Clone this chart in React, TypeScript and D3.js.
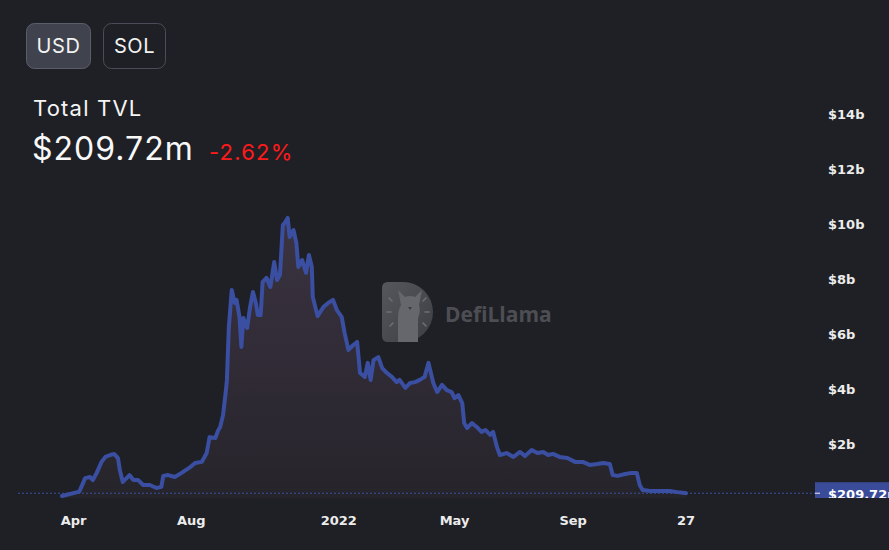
import * as d3 from "d3";

// TVL in $b
const dates = [
  "2021-03-20", "2021-04-07", "2021-04-13", "2021-04-18", "2021-04-21", "2021-04-25", "2021-04-30",
  "2021-05-04", "2021-05-09", "2021-05-13", "2021-05-17", "2021-05-19", "2021-05-22", "2021-05-26",
  "2021-05-29", "2021-06-02", "2021-06-07", "2021-06-12", "2021-06-19", "2021-06-26", "2021-07-01",
  "2021-07-03", "2021-07-08", "2021-07-15", "2021-07-22", "2021-07-31", "2021-08-05", "2021-08-12",
  "2021-08-17", "2021-08-20", "2021-08-26", "2021-08-29", "2021-08-31", "2021-09-03", "2021-09-06",
  "2021-09-07", "2021-09-09", "2021-09-12", "2021-09-15", "2021-09-17", "2021-09-20", "2021-09-22",
  "2021-09-24", "2021-09-28", "2021-10-01", "2021-10-04", "2021-10-07", "2021-10-09", "2021-10-12",
  "2021-10-14", "2021-10-18", "2021-10-22", "2021-10-24", "2021-10-26", "2021-10-29", "2021-11-01",
  "2021-11-04", "2021-11-06", "2021-11-09", "2021-11-11", "2021-11-15", "2021-11-18", "2021-11-20",
  "2021-11-24", "2021-11-28", "2021-12-01", "2021-12-04", "2021-12-05", "2021-12-10", "2021-12-16",
  "2021-12-21", "2021-12-26", "2021-12-30", "2022-01-04", "2022-01-07", "2022-01-11", "2022-01-16",
  "2022-01-20", "2022-01-23", "2022-01-28", "2022-01-31", "2022-02-03", "2022-02-06", "2022-02-11",
  "2022-02-15", "2022-02-20", "2022-02-25", "2022-03-02", "2022-03-05", "2022-03-11", "2022-03-16",
  "2022-03-21", "2022-03-26", "2022-03-31", "2022-04-04", "2022-04-09", "2022-04-13", "2022-04-18",
  "2022-04-23", "2022-04-28", "2022-05-01", "2022-05-05", "2022-05-09", "2022-05-11", "2022-05-14",
  "2022-05-19", "2022-05-24", "2022-05-29", "2022-06-02", "2022-06-07", "2022-06-10", "2022-06-14",
  "2022-06-17", "2022-06-24", "2022-07-01", "2022-07-08", "2022-07-13", "2022-07-20", "2022-07-26",
  "2022-08-01", "2022-08-06", "2022-08-11", "2022-08-18", "2022-08-26", "2022-09-03", "2022-09-11",
  "2022-09-18", "2022-09-26", "2022-10-02", "2022-10-09", "2022-10-12", "2022-10-17", "2022-10-25",
  "2022-11-01", "2022-11-06", "2022-11-09", "2022-11-12", "2022-11-20", "2022-11-30", "2022-12-10",
  "2022-12-18", "2022-12-26", "2022-12-27",
];

const tvl = [
  0.11, 0.27, 0.76, 0.8, 0.69, 0.95, 1.35,
  1.53, 1.6, 1.64, 1.49, 1.05, 0.62, 0.76,
  0.87, 0.69, 0.69, 0.51, 0.51, 0.4, 0.44,
  0.84, 0.87, 0.8, 0.95, 1.16, 1.31, 1.35,
  1.67, 2.25, 2.22, 2.5, 2.62, 3.05, 3.96,
  4.33, 6.25, 7.6, 7.13, 7.24, 6.62, 5.53,
  6.58, 6.22, 6.98, 7.53, 7.13, 6.69, 6.69,
  7.89, 8.04, 7.71, 8.15, 8.62, 7.96, 8.15,
  9.96, 10.04, 10.22, 9.53, 9.78, 9.31, 8.44,
  8.69, 8.22, 8.87, 8.44, 7.35, 6.65, 6.98,
  7.13, 7.24, 6.87, 6.62, 6.04, 5.42, 5.6,
  5.71, 4.58, 4.44, 4.95, 4.33, 5.05, 5.16,
  4.76, 4.58, 4.44, 4.25, 4.33, 4.04, 4.22,
  4.25, 4.33, 4.44, 4.95, 4.22, 3.89, 4.15,
  3.96, 3.89, 3.67, 3.78, 3.49, 2.76, 2.58,
  2.76, 2.62, 2.44, 2.51, 2.33, 2.44, 1.89,
  1.6, 1.67, 1.53, 1.71, 1.56, 1.78, 1.67,
  1.71, 1.6, 1.64, 1.53, 1.49, 1.35, 1.35,
  1.24, 1.27, 1.31, 1.27, 0.87, 0.84, 0.91,
  0.95, 0.95, 0.51, 0.33, 0.29, 0.29, 0.29,
  0.25, 0.22, 0.2097,
];

const yTicks = [2, 4, 6, 8, 10, 12, 14];
const xTickDates = ["2021-04-01", "2021-08-01", "2022-01-01", "2022-05-01", "2022-09-01", "2022-12-27"];
const xTickLabels = ["Apr", "Aug", "2022", "May", "Sep", "27"];

const W = 889;
const H = 550;
const BG = "#1f2025";
const LINE = "#3a4fa2";
const PANE_BOTTOM = 498;

const parse = d3.utcParse("%Y-%m-%d");

export default function App() {
  const points = dates.map((d, i) => ({ date: parse(d) as Date, value: tvl[i] }));

  const x = d3
    .scaleUtc()
    .domain([parse(dates[0]) as Date, parse(dates[dates.length - 1]) as Date])
    .range([62, 686]);

  const y = d3.scaleLinear().domain([0, 14]).range([499, 114]);

  const line = d3
    .line<{ date: Date; value: number }>()
    .x((d) => x(d.date))
    .y((d) => y(d.value));

  const area = d3
    .area<{ date: Date; value: number }>()
    .x((d) => x(d.date))
    .y0(y(0))
    .y1((d) => y(d.value));

  const maxV = d3.max(tvl) as number;
  const last = tvl[tvl.length - 1];
  const lastY = y(last);

  const axisFont = {
    fontFamily: "DejaVu Sans",
    fontWeight: 700,
    fontSize: 13,
    fill: "#ececec",
  };

  return (
    <svg
      width={W}
      height={H}
      style={{ position: "absolute", left: 0, top: 0, display: "block" }}
    >
      <defs>
        <linearGradient
          id="areaFill"
          gradientUnits="userSpaceOnUse"
          x1="0"
          x2="0"
          y1={y(maxV)}
          y2={y(0)}
        >
          <stop offset="0%" stopColor="#3b3341" />
          <stop offset="100%" stopColor="#26242b" />
        </linearGradient>
        <linearGradient id="logoFill" x1="0" x2="1" y1="0" y2="1">
          <stop offset="0%" stopColor="#56575c" />
          <stop offset="100%" stopColor="#3d3e43" />
        </linearGradient>
        <clipPath id="pane">
          <rect x={0} y={0} width={W} height={PANE_BOTTOM} />
        </clipPath>
      </defs>

      <rect width={W} height={H} fill={BG} />

      {/* currency toggles */}
      <rect x={26.5} y={23.5} width={64} height={45} rx={8} fill="#40434e" stroke="#5a5e6b" />
      <text x={58.5} y={53} textAnchor="middle" fill="#f2f2f2" fontFamily="Inter" fontSize={20} letterSpacing={0.6}>
        USD
      </text>
      <rect x={103.5} y={23.5} width={62} height={45} rx={8} fill="none" stroke="#4a4d59" />
      <text x={134.5} y={53} textAnchor="middle" fill="#f2f2f2" fontFamily="Inter" fontSize={20} letterSpacing={0.6}>
        SOL
      </text>

      <text x={33} y={116} fill="#f5f5f5" fontFamily="Inter" fontSize={22} letterSpacing={1.2}>
        Total TVL
      </text>
      <text x={32} y={160} fill="#f8f8f8" fontFamily="Inter" fontSize={32} letterSpacing={1}>
        $209.72m
      </text>
      <text x={209} y={160} fill="#ff1a1a" fontFamily="Inter" fontSize={22} letterSpacing={1.2}>
        -2.62%
      </text>

      {/* watermark */}
      <g>
        <path
          d="M388 282 H403 A30 30 0 0 1 403 342 H388 Q382 342 382 336 V288 Q382 282 388 282 Z"
          fill="url(#logoFill)"
        />
        <path
          d="M398 342 V318 Q398 310 401 305 L398 290 L405 297 Q410 295 415 297 L422 290 L419 305 Q421 311 418 318 V342 Z"
          fill="#66676c"
        />
        <path d="M408 307 L412 307 L410 310 Z" fill="#3d3e43" />
        <g stroke="#6d6e73" strokeWidth={1.6} strokeLinecap="round">
          <line x1={389} y1={298} x2={392} y2={301} />
          <line x1={387} y1={312} x2={391} y2={312} />
          <line x1={390} y1={326} x2={393} y2={323} />
          <line x1={426} y1={298} x2={423} y2={301} />
          <line x1={429} y1={312} x2={425} y2={312} />
          <line x1={426} y1={326} x2={423} y2={323} />
        </g>
        <text x={445} y={322} fill="#4d4e53" fontFamily="Open Sans" fontWeight={700} fontSize={21}>
          DefiLlama
        </text>
      </g>

      <g clipPath="url(#pane)">
        <path d={area(points) ?? ""} fill="url(#areaFill)" />
        <line
          x1={18}
          x2={815}
          y1={lastY}
          y2={lastY}
          stroke={LINE}
          strokeWidth={1}
          strokeDasharray="2 2"
        />
        <path
          d={line(points) ?? ""}
          fill="none"
          stroke={LINE}
          strokeWidth={4}
          strokeLinejoin="round"
          strokeLinecap="round"
        />

        {/* last value label */}
        <rect x={815} y={lastY - 11} width={W - 815} height={22} fill="#3a4c99" />
        <line x1={815} x2={820} y1={lastY} y2={lastY} stroke="#f0f0f0" strokeWidth={1} />
        <text x={828} y={lastY} dy="0.42em" {...axisFont} fill="#ffffff">
          $209.72m
        </text>
      </g>

      {/* price scale */}
      {yTicks.map((t) => (
        <text key={t} x={828} y={y(t)} dy="0.36em" {...axisFont}>
          {`$${t}b`}
        </text>
      ))}

      {/* time scale */}
      {xTickDates.map((d, i) => (
        <text
          key={d}
          x={x(parse(d) as Date)}
          y={520}
          dy="0.36em"
          textAnchor="middle"
          {...axisFont}
        >
          {xTickLabels[i]}
        </text>
      ))}
    </svg>
  );
}
